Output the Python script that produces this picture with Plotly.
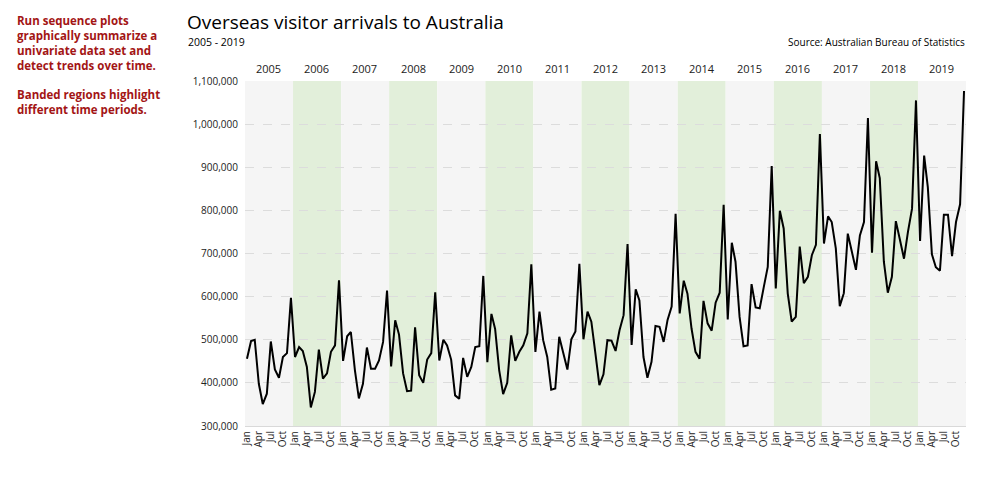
import plotly.graph_objects as go

# Monthly overseas visitor arrivals, Jan..Dec for each year
years = list(range(2005, 2020))
month_labels = ['Jan', 'Apr', 'Jul', 'Oct']

arrivals_2005 = [456000, 497000, 500000, 398000, 351000, 375000, 496000, 431000, 412000, 460000, 469000, 597000]
arrivals_2006 = [460000, 483000, 474000, 437000, 343000, 379000, 477000, 410000, 422000, 472000, 487000, 638000]
arrivals_2007 = [451000, 508000, 518000, 429000, 364000, 398000, 482000, 433000, 433000, 452000, 495000, 614000]
arrivals_2008 = [438000, 545000, 512000, 422000, 381000, 382000, 529000, 418000, 400000, 454000, 469000, 610000]
arrivals_2009 = [452000, 500000, 487000, 454000, 371000, 363000, 458000, 414000, 437000, 483000, 485000, 648000]
arrivals_2010 = [448000, 560000, 525000, 429000, 374000, 400000, 510000, 451000, 472000, 487000, 515000, 675000]
arrivals_2011 = [472000, 565000, 499000, 460000, 384000, 387000, 507000, 468000, 431000, 501000, 519000, 676000]
arrivals_2012 = [501000, 565000, 542000, 468000, 395000, 420000, 499000, 498000, 474000, 522000, 557000, 722000]
arrivals_2013 = [488000, 617000, 591000, 460000, 412000, 449000, 532000, 530000, 495000, 546000, 577000, 792000]
arrivals_2014 = [561000, 637000, 607000, 526000, 472000, 456000, 590000, 538000, 521000, 586000, 609000, 813000]
arrivals_2015 = [547000, 725000, 681000, 553000, 485000, 487000, 629000, 575000, 573000, 621000, 669000, 903000]
arrivals_2016 = [619000, 799000, 758000, 607000, 542000, 553000, 716000, 631000, 646000, 696000, 720000, 977000]
arrivals_2017 = [723000, 786000, 773000, 712000, 578000, 608000, 746000, 704000, 662000, 742000, 773000, 1014000]
arrivals_2018 = [702000, 914000, 875000, 681000, 609000, 646000, 775000, 732000, 688000, 750000, 804000, 1055000]
arrivals_2019 = [729000, 927000, 854000, 698000, 668000, 660000, 790000, 790000, 694000, 773000, 814000, 1077000]

all_years = [arrivals_2005, arrivals_2006, arrivals_2007, arrivals_2008, arrivals_2009,
             arrivals_2010, arrivals_2011, arrivals_2012, arrivals_2013, arrivals_2014,
             arrivals_2015, arrivals_2016, arrivals_2017, arrivals_2018, arrivals_2019]

dates = [f'{y}-{m:02d}-01' for y in years for m in range(1, 13)]
values = [v for yr in all_years for v in yr]

FONT = 'Open Sans'
RED = '#a31515'

# screen pixel -> paper helpers (plot area sits at 245..966 x 81..426 on screen)
def px(x):
    return (x - 245) / 721

def py(y):
    return (426 - y) / 345

fig = go.Figure()
fig.add_trace(go.Scatter(x=dates, y=values, mode='lines',
                         line=dict(color='black', width=2), hoverinfo='x+y'))

# alternating year bands
shapes = []
for y in years:
    shapes.append(dict(type='rect', xref='x', yref='paper',
                       x0=f'{y - 1}-12-17', x1=f'{y}-12-16', y0=0, y1=1,
                       fillcolor='#e2efda' if y % 2 == 0 else '#f5f5f5',
                       line=dict(width=0), layer='below'))

annotations = []
# year labels above the bands
for y in years:
    annotations.append(dict(x=f'{y}-06-16', y=py(69), xref='x', yref='paper',
                            text=str(y), showarrow=False, yanchor='middle',
                            font=dict(family=FONT, size=11, color='#222')))

# side note, two paragraphs
note_1 = 'Run sequence plots<br>graphically summarize a<br>univariate data set and<br>detect trends over time.'
note_2 = 'Banded regions highlight<br>different time periods.'
for txt, yy in [(note_1, 11), (note_2, 85)]:
    annotations.append(dict(x=px(15), y=py(yy), xref='paper', yref='paper',
                            text=f'<b>{txt}</b>', showarrow=False, align='left',
                            xanchor='left', yanchor='top',
                            font=dict(family=FONT, size=11.5, color=RED)))

annotations += [
    dict(x=px(185), y=py(22), xref='paper', yref='paper',
         text='Overseas visitor arrivals to Australia', showarrow=False,
         xanchor='left', yanchor='middle',
         font=dict(family=FONT, size=19, color='black')),
    dict(x=px(186), y=py(42), xref='paper', yref='paper',
         text='2005 - 2019', showarrow=False,
         xanchor='left', yanchor='middle',
         font=dict(family=FONT, size=10.5, color='black')),
    dict(x=px(967), y=py(42), xref='paper', yref='paper',
         text='Source: Australian Bureau of Statistics', showarrow=False,
         xanchor='right', yanchor='middle',
         font=dict(family=FONT, size=10, color='black')),
]

tick_dates = [f'{y}-{m:02d}-01' for y in years for m in (1, 4, 7, 10)]
tick_text = month_labels * len(years)

# page adds an 8px body margin, so the figure is shifted right/down by 8px
fig.update_layout(
    width=1005, height=480,
    margin=dict(l=237, r=47, t=73, b=62),
    paper_bgcolor='white', plot_bgcolor='white',
    showlegend=False,
    shapes=shapes,
    annotations=annotations,
    font=dict(family=FONT, color='#222'),
)

fig.update_xaxes(range=['2004-12-17', '2019-12-16'], tickvals=tick_dates,
                 ticktext=tick_text, tickangle=-90, showgrid=False,
                 tickfont=dict(family=FONT, size=10, color='#222'),
                 showline=True, linecolor='#d9d9d9', linewidth=1,
                 ticks='', zeroline=False)
fig.update_yaxes(range=[300000, 1100000], dtick=100000, tickformat=',',
                 showgrid=True, gridcolor='#dcdcdc', griddash='dash',
                 tickfont=dict(family=FONT, size=10, color='#222'),
                 zeroline=False, ticks='', ticklabelstandoff=6)

fig.write_html('out.html')
